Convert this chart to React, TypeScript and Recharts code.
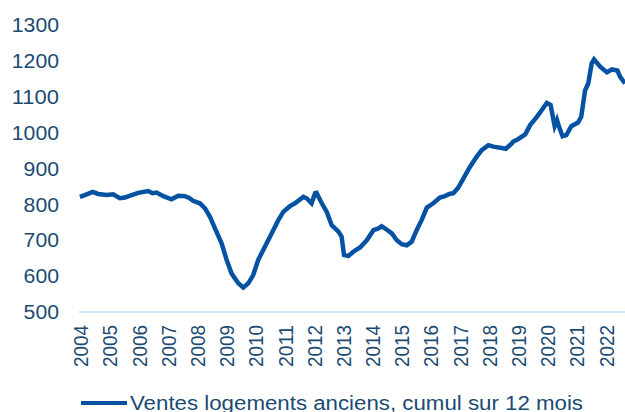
import React from "react"
import { LineChart, Line, XAxis, YAxis, Legend } from "recharts"

// time in decimal years (reading points along the curve), sales in thousands
const dates = [
  2004.0, 2004.17, 2004.44, 2004.63, 2004.92, 2005.14, 2005.37, 2005.54, 2005.77, 2006.0,
  2006.34, 2006.49, 2006.63, 2006.86, 2007.14, 2007.37, 2007.6, 2007.75, 2007.88, 2008.11,
  2008.29, 2008.46, 2008.63, 2008.86, 2009.03, 2009.2, 2009.43, 2009.6, 2009.77, 2009.94,
  2010.11, 2010.34, 2010.57, 2010.8, 2010.97, 2011.2, 2011.37, 2011.66, 2011.77, 2011.94,
  2012.06, 2012.11, 2012.29, 2012.46, 2012.63, 2012.86, 2012.97, 2013.05, 2013.2, 2013.37,
  2013.6, 2013.83, 2014.06, 2014.23, 2014.34, 2014.51, 2014.69, 2014.86, 2015.03, 2015.2,
  2015.37, 2015.54, 2015.71, 2015.89, 2016.11, 2016.34, 2016.51, 2016.66, 2016.8, 2016.97,
  2017.14, 2017.37, 2017.6, 2017.77, 2018.0, 2018.17, 2018.4, 2018.6, 2018.8, 2018.85,
  2019.0, 2019.26, 2019.43, 2019.66, 2019.83, 2020.0, 2020.13, 2020.27, 2020.35, 2020.42,
  2020.54, 2020.67, 2020.84, 2021.07, 2021.18, 2021.31, 2021.42, 2021.54, 2021.62, 2021.83,
  2022.06, 2022.23, 2022.42, 2022.51, 2022.68,
]

const sales = [
  821, 826, 835, 829, 826, 828, 817, 819, 826, 832,
  837, 831, 833, 823, 814, 824, 823, 818, 810, 803,
  789, 765, 733, 691, 645, 607, 580, 568, 580, 603,
  645, 682, 719, 756, 779, 795, 803, 821, 817, 803,
  831, 832, 803, 779, 742, 724, 710, 659, 656, 668,
  680, 700, 728, 733, 739, 730, 719, 700, 689, 686,
  696, 728, 756, 791, 803, 819, 823, 829, 831, 847,
  872, 905, 933, 951, 965, 961, 958, 955, 970, 975,
  981, 995, 1021, 1044, 1063, 1083, 1077, 1018, 1035, 1016,
  990, 993, 1018, 1028, 1044, 1117, 1137, 1193, 1204, 1184,
  1168, 1176, 1173, 1156, 1137,
]

const years = [
  2004, 2005, 2006, 2007, 2008, 2009, 2010, 2011, 2012, 2013,
  2014, 2015, 2016, 2017, 2018, 2019, 2020, 2021, 2022,
]
const yTicks = [500, 600, 700, 800, 900, 1000, 1100, 1200, 1300]

const seriesName = "Ventes logements anciens, cumul sur 12 mois"

const data = dates.map((t, i) => ({ t, v: sales[i] }))

const navy = "#1b4a72"
const blue = "#0652a2"
const font = "'Liberation Sans', Arial, sans-serif"

// the source text is a bit wider than Arial, so stretch with textLength
function YearTick(props: any) {
  const { x, y, payload } = props
  return (
    <text
      x={x}
      y={y}
      transform={`rotate(-90, ${x}, ${y})`}
      textAnchor="end"
      dy="0.4em"
      fontSize={21}
      fontFamily={font}
      fill={navy}
      textLength={42}
      lengthAdjust="spacingAndGlyphs"
    >
      {payload.value}
    </text>
  )
}

function ValueTick(props: any) {
  const { x, y, payload } = props
  const s = String(payload.value)
  return (
    <text
      x={x}
      y={y}
      textAnchor="end"
      dy="0.36em"
      fontSize={20}
      fontFamily={font}
      fill={navy}
      textLength={s.length * 11.8}
      lengthAdjust="spacingAndGlyphs"
    >
      {s}
    </text>
  )
}

function LegendLine() {
  return (
    <div style={{ height: 30, position: "relative" }}>
      <svg width={625} height={30} style={{ position: "absolute", left: 0, top: 0 }}>
        <line x1={81} x2={127} y1={21} y2={21} stroke={blue} strokeWidth={4} />
        <text
          x={130}
          y={28}
          fontSize={20}
          fill={navy}
          fontFamily={font}
          textLength={453}
          lengthAdjust="spacingAndGlyphs"
        >
          {seriesName}
        </text>
      </svg>
    </div>
  )
}

export default function App() {
  return (
    <div style={{ position: "absolute", left: 0, top: 0, width: 625, height: 412, background: "#fff" }}>
      <LineChart width={625} height={412} data={data} margin={{ top: 25, right: 0, left: 0, bottom: 0 }}>
        <XAxis
          dataKey="t"
          type="number"
          domain={[2003.97, 2022.68]}
          ticks={years}
          allowDataOverflow
          interval={0}
          height={70}
          axisLine={{ stroke: "#cfe6f7", strokeWidth: 2 }}
          tickLine={false}
          tickSize={0}
          tickMargin={13}
          tick={<YearTick />}
        />
        <YAxis
          domain={[500, 1300]}
          ticks={yTicks}
          width={79}
          axisLine={false}
          tickLine={false}
          tickSize={0}
          tickMargin={20}
          tick={<ValueTick />}
        />
        <Legend verticalAlign="bottom" content={<LegendLine />} wrapperStyle={{ left: 0, width: 625 }} />
        <Line
          type="linear"
          dataKey="v"
          name={seriesName}
          stroke={blue}
          strokeWidth={4.5}
          dot={false}
          isAnimationActive={false}
        />
      </LineChart>
    </div>
  )
}
